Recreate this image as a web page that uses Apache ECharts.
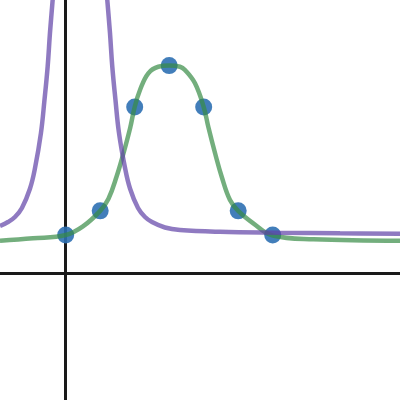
<!DOCTYPE html>
<html>
<head>
<meta charset="utf-8">
<script src="https://cdn.jsdelivr.net/npm/echarts@6/dist/echarts.min.js"></script>
<style>html,body{margin:0;padding:0;background:#fff;}#c{width:400px;height:400px;}</style>
</head>
<body>
<div id="c"></div>
<script>
// Data points (x, y)
var pointX = [0, 1, 2, 3, 4, 5, 6];
var pointY = [1.11, 1.81, 4.82, 6.02, 4.82, 1.81, 1.11];

// Green curve samples
var greenX = [-1.904, -0.948, 0, 0.5, 1.0, 1.24, 1.48, 1.67, 1.87, 2.0, 2.154, 2.394, 2.684, 3.0, 3.313, 3.458, 3.748, 4.0, 4.133, 4.328, 4.522, 4.762, 5.0, 5.438, 6.0, 7.177, 9.69];
var greenY = [0.945, 1.014, 1.11, 1.36, 1.81, 2.16, 2.82, 3.46, 4.22, 4.82, 5.313, 5.797, 5.988, 6.02, 5.988, 5.893, 5.507, 4.82, 4.249, 3.487, 2.8, 2.125, 1.81, 1.449, 1.096, 0.986, 0.945];

// Purple curve samples (peak runs above the view)
var purpleX = [-1.904, -1.673, -1.471, -1.268, -1.036, -0.891, -0.717, -0.615, -0.523, -0.456, -0.378, -0.325, -0.252, -0.107, 0.414, 0.936, 1.081, 1.154, 1.206, 1.284, 1.351, 1.443, 1.545, 1.719, 1.864, 2.096, 2.299, 2.501, 2.878, 3.313, 4.472, 6.212, 7.951, 9.69];
var purpleY = [1.37, 1.487, 1.632, 1.893, 2.45, 3.04, 4.067, 5.023, 5.988, 6.965, 7.922, 8.646, 9.951, 12.849, 28.21, 12.849, 9.951, 8.646, 7.922, 6.965, 5.988, 5.023, 4.067, 3.06, 2.46, 1.893, 1.632, 1.487, 1.328, 1.255, 1.203, 1.177, 1.159, 1.145];

function zip(a, b) { return a.map(function (v, i) { return [v, b[i]]; }); }

var chart = echarts.init(document.getElementById('c'), null, {renderer: 'canvas'});
chart.setOption({
  animation: false,
  backgroundColor: '#ffffff',
  grid: {left: 0, right: 0, top: 0, bottom: 0},
  xAxis: {
    type: 'value', min: -1.904, max: 9.69,
    axisLine: {show: true, onZero: true, lineStyle: {color: '#1a1a1a', width: 3}},
    axisTick: {show: false}, axisLabel: {show: false}, splitLine: {show: false}
  },
  yAxis: {
    type: 'value', min: -3.672, max: 7.922,
    axisLine: {show: true, onZero: true, lineStyle: {color: '#1a1a1a', width: 3}},
    axisTick: {show: false}, axisLabel: {show: false}, splitLine: {show: false}
  },
  series: [
    {
      type: 'scatter', z: 2,
      data: zip(pointX, pointY),
      symbolSize: 17,
      itemStyle: {color: '#2d70b3', opacity: 0.9}
    },
    {
      type: 'line', z: 3,
      data: zip(greenX, greenY),
      showSymbol: false, smooth: 0.4,
      lineStyle: {color: '#388c46', opacity: 0.7, width: 4.5}
    },
    {
      type: 'line', z: 3,
      data: zip(purpleX, purpleY),
      showSymbol: false, smooth: 0.4,
      lineStyle: {color: '#6042a6', opacity: 0.7, width: 4.5}
    }
  ]
});
</script>
</body>
</html>
